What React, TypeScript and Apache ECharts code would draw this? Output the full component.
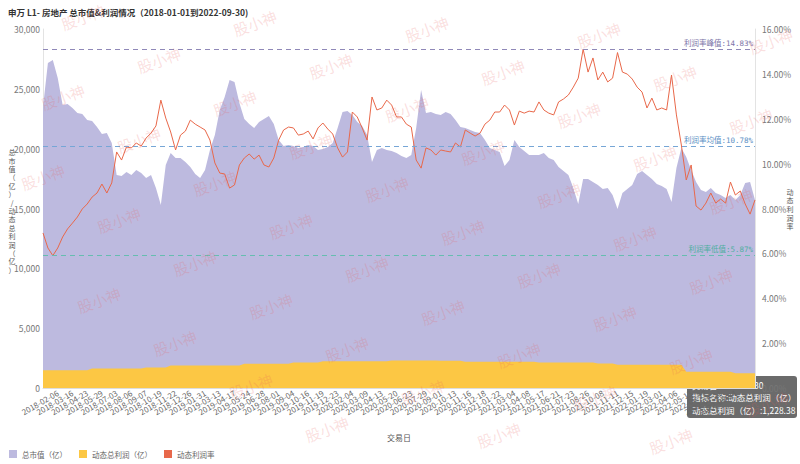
import React, { useEffect, useRef } from "react";
import * as echarts from "echarts";

const FONT = "'Noto Sans CJK SC', 'Noto Sans', sans-serif";
const MONO = "'DejaVu Sans Mono', 'Noto Sans CJK SC', monospace";

const titleText = "申万 L1- 房地产 总市值&利润情况（2018-01-01到2022-09-30)";
const seriesNames = ["总市值（亿）", "动态总利润（亿）", "动态利润率"];
const leftAxisName = "总市值（亿）/动态总利润（亿）";
const rightAxisName = "动态利润率";
const xAxisName = "交易日";
const peakRate = 14.83;
const meanRate = 10.78;
const lowRate = 5.87;

const dates = [
  "2018-01-02", "2018-01-12", "2018-01-24",
  "2018-02-06", "2018-02-26", "2018-03-06",
  "2018-03-16", "2018-03-28", "2018-04-11",
  "2018-04-23", "2018-05-07", "2018-05-17",
  "2018-05-29", "2018-06-08", "2018-06-21",
  "2018-07-03", "2018-07-13", "2018-07-25",
  "2018-08-06", "2018-08-16", "2018-08-28",
  "2018-09-07", "2018-09-19", "2018-10-09",
  "2018-10-19", "2018-10-31", "2018-11-12",
  "2018-11-22", "2018-12-04", "2018-12-14",
  "2018-12-26", "2019-01-09", "2019-01-21",
  "2019-01-31", "2019-02-19", "2019-03-01",
  "2019-03-13", "2019-03-25", "2019-04-04",
  "2019-04-17", "2019-04-29", "2019-05-14",
  "2019-05-24", "2019-06-05", "2019-06-18",
  "2019-06-28", "2019-07-10", "2019-07-22",
  "2019-08-01", "2019-08-13", "2019-08-23",
  "2019-09-04", "2019-09-17", "2019-09-27",
  "2019-10-16", "2019-10-28", "2019-11-07",
  "2019-11-19", "2019-11-29", "2019-12-11",
  "2019-12-23", "2020-01-06", "2020-01-16",
  "2020-02-04", "2020-02-14", "2020-02-26",
  "2020-03-09", "2020-03-19", "2020-03-31",
  "2020-04-13", "2020-04-23", "2020-05-08",
  "2020-05-20", "2020-06-01", "2020-06-11",
  "2020-06-23", "2020-07-06", "2020-07-16",
  "2020-07-29", "2020-08-10", "2020-08-20",
  "2020-09-01", "2020-09-11", "2020-09-23",
  "2020-10-13", "2020-10-23", "2020-11-04",
  "2020-11-16", "2020-11-26", "2020-12-08",
  "2020-12-18", "2020-12-30", "2021-01-12",
  "2021-01-22", "2021-02-03", "2021-02-22",
  "2021-03-04", "2021-03-16", "2021-03-26",
  "2021-04-08", "2021-04-20", "2021-04-30",
  "2021-05-17", "2021-05-27", "2021-06-08",
  "2021-06-21", "2021-07-01", "2021-07-13",
  "2021-07-23", "2021-08-04", "2021-08-16",
  "2021-08-26", "2021-09-07", "2021-09-17",
  "2021-10-08", "2021-10-20", "2021-11-01",
  "2021-11-11", "2021-11-23", "2021-12-03",
  "2021-12-15", "2021-12-27", "2022-01-07",
  "2022-01-19", "2022-02-07", "2022-02-17",
  "2022-03-01", "2022-03-11", "2022-03-23",
  "2022-04-06", "2022-04-18", "2022-04-28",
  "2022-05-13", "2022-05-25", "2022-06-07",
  "2022-06-17", "2022-06-29", "2022-07-11",
  "2022-07-21", "2022-08-02", "2022-08-12",
  "2022-08-24", "2022-09-05", "2022-09-16",
  "2022-09-28", "2022-09-30",
];

const marketCap = [
  23480, 27160, 27410, 25910, 23650, 23730, 23400, 22980, 22900, 22400,
  22310, 21810, 21230, 21310, 20480, 17800, 17720, 18050, 17800, 18220,
  17970, 17550, 17800, 16710, 15290, 18640, 19640, 19220, 19220, 18890,
  18470, 17880, 17550, 18220, 19890, 21140, 23230, 24320, 25740, 25570,
  23820, 22480, 22060, 21730, 22230, 22480, 22730, 22060, 20730, 20220,
  20310, 20220, 20060, 20140, 20310, 20220, 19890, 19970, 20140, 20480,
  21730, 23070, 23150, 22820, 22230, 21900, 21140, 18890, 19890, 20060,
  19890, 19810, 19640, 19390, 19220, 19470, 21730, 24900, 22980, 23070,
  22900, 22820, 23070, 22900, 22400, 21810, 21730, 21560, 21390, 21310,
  20730, 20060, 19890, 19720, 18550, 19050, 20730, 20140, 19810, 19470,
  19470, 19470, 19640, 19220, 19050, 18470, 18140, 17800, 16710, 15380,
  17470, 17470, 17220, 16970, 16630, 16710, 16130, 14960, 16300, 16630,
  16970, 17880, 18140, 17800, 17470, 17050, 16880, 16630, 15540, 18390,
  20060, 19310, 18220, 17220, 16550, 16380, 16710, 16300, 16130, 15880,
  16130, 15710, 16130, 17130, 17220, 15710,
];

const profit = [
  1480, 1480, 1480, 1480, 1480, 1480, 1480, 1480, 1480, 1480,
  1620, 1620, 1620, 1620, 1620, 1620, 1620, 1620, 1620, 1620,
  1620, 1720, 1720, 1720, 1720, 1720, 1880, 1880, 1880, 1880,
  1880, 1880, 1880, 1880, 1880, 1880, 1880, 1880, 1880, 1880,
  1880, 2030, 2030, 2030, 2030, 2030, 2030, 2030, 2030, 2030,
  2030, 2130, 2130, 2130, 2130, 2130, 2130, 2230, 2230, 2230,
  2230, 2230, 2230, 2230, 2230, 2230, 2230, 2230, 2230, 2230,
  2230, 2300, 2300, 2300, 2300, 2300, 2300, 2300, 2300, 2300,
  2300, 2270, 2270, 2270, 2270, 2270, 2200, 2200, 2200, 2200,
  2200, 2200, 2200, 2200, 2200, 2200, 2200, 2200, 2200, 2200,
  2200, 2130, 2130, 2130, 2130, 2130, 2130, 2130, 2130, 2130,
  2130, 2130, 2130, 2050, 2050, 2050, 2050, 1950, 1950, 1950,
  1950, 1950, 1950, 1950, 1950, 1950, 1950, 1950, 1950, 1950,
  1950, 1350, 1350, 1350, 1350, 1350, 1350, 1350, 1350, 1350,
  1350, 1228.38, 1228.38, 1228.38, 1228.38, 1228.38,
];

const profitRate = [
  6.91, 6.24, 5.9, 6.24, 6.73, 7.09, 7.35, 7.62, 7.98, 8.2,
  8.51, 8.69, 9.09, 8.69, 9.14, 10.52, 10.16, 10.74, 10.7, 10.92,
  10.78, 11.14, 11.36, 11.68, 12.83, 12.03, 11.41, 10.61, 11.27, 11.45,
  11.94, 11.76, 11.63, 11.5, 11.05, 10.03, 9.58, 9.54, 8.91, 9.05,
  9.94, 10.25, 10.43, 10.2, 10.38, 9.94, 9.85, 10.25, 11.05, 11.5,
  11.63, 11.59, 11.27, 11.32, 11.45, 11.1, 11.59, 11.81, 11.54, 11.32,
  10.7, 10.29, 10.52, 12.3, 12.08, 11.59, 11.05, 12.97, 12.39, 12.48,
  12.83, 12.61, 12.08, 12.08, 11.76, 11.63, 10.16, 9.8, 10.7, 10.61,
  10.38, 10.61, 10.56, 10.52, 10.92, 10.74, 11.5, 11.36, 11.23, 11.36,
  11.76, 11.94, 12.3, 12.3, 12.61, 12.39, 11.72, 12.34, 12.25, 12.34,
  12.3, 12.75, 12.39, 12.25, 12.17, 12.75, 12.88, 13.06, 13.41, 13.81,
  15.1, 14.08, 14.71, 13.73, 14.08, 13.64, 13.81, 14.95, 14.08, 13.99,
  13.77, 13.41, 13.19, 12.48, 12.92, 12.39, 12.48, 12.39, 13.95, 12.17,
  10.83, 9.27, 9.94, 8.11, 7.93, 8.24, 8.69, 8.24, 8.42, 8.24,
  9.18, 8.6, 8.78, 8.2, 7.75, 8.38,
];

const COLORS = ["#BDBADF", "#FCC744", "#E8684A"];

function fmtNum(v: number, digits = 0) {
  return v.toLocaleString("en-US", {
    minimumFractionDigits: digits,
    maximumFractionDigits: digits,
  });
}

function buildWatermarks() {
  const items: any[] = [];
  for (let i = -3; i <= 6; i++) {
    for (let j = -2; j <= 12; j++) {
      const x = 83 + i * 172 + j * 76;
      const y = 17 + i * 6 + j * 43;
      if (x < 26 || x > 776 || y < 8 || y > 452) continue;
      items.push({
        type: "text",
        x,
        y,
        rotation: (20 * Math.PI) / 180,
        silent: true,
        z: 100,
        style: {
          text: "股小神",
          fill: "rgba(232, 90, 90, 0.2)",
          font: `15px ${FONT}`,
          align: "center",
          verticalAlign: "middle",
        },
      });
    }
  }
  return items;
}

function verticalText(text: string, x: number, y: number, step: number) {
  const chars = text.split("");
  const top = y - ((chars.length - 1) * step) / 2;
  return chars.map((ch, k) => ({
    type: "text",
    x,
    y: top + k * step,
    silent: true,
    style: {
      text: ch,
      fill: "#555",
      font: `7px ${FONT}`,
      align: "center",
      verticalAlign: "middle",
    },
  }));
}

export default function App() {
  const ref = useRef<HTMLDivElement>(null);

  useEffect(() => {
    if (!ref.current) return;
    const chart = echarts.init(ref.current, undefined, { renderer: "svg" });
    const last = dates.length - 1;

    const markLabel = (text: string, color: string) => ({
      show: true,
      position: "insideEndTop",
      formatter: text,
      color,
      fontSize: 7.5,
      fontFamily: MONO,
      distance: 2,
    });

    const option: any = {
      animation: false,
      backgroundColor: "#ffffff",
      textStyle: { fontFamily: FONT },
      title: {
        text: titleText,
        left: 3,
        top: 3,
        textStyle: { fontSize: 8.5, fontWeight: "bold", color: "#333", fontFamily: FONT },
      },
      legend: {
        data: seriesNames,
        left: 4,
        top: 445,
        icon: "rect",
        itemWidth: 8,
        itemHeight: 8,
        itemGap: 12,
        textStyle: { fontSize: 7.5, color: "#666", fontFamily: FONT },
      },
      grid: { left: 43, right: 45, top: 29, bottom: 76 },
      xAxis: {
        type: "category",
        data: dates,
        boundaryGap: false,
        name: xAxisName,
        nameLocation: "middle",
        nameGap: 45,
        nameTextStyle: { fontSize: 8, color: "#555" },
        axisLine: { show: true, lineStyle: { color: "#ddd" } },
        axisTick: { show: false },
        axisLabel: {
          interval: 2,
          rotate: 30,
          fontSize: 8,
          color: "#666",
          margin: 4,
        },
      },
      yAxis: [
        {
          type: "value",
          min: 0,
          max: 30000,
          interval: 5000,
          axisLine: { show: true, lineStyle: { color: "#e3e3e3" } },
          axisTick: { show: false },
          splitLine: { show: false },
          axisLabel: {
            fontSize: 8.5,
            color: "#777",
            margin: 3,
            formatter: (v: number) => fmtNum(v),
          },
        },
        {
          type: "value",
          min: 0,
          max: 16,
          interval: 2,
          axisLine: { show: true, lineStyle: { color: "#e3e3e3" } },
          axisTick: { show: false },
          splitLine: { show: false },
          axisLabel: {
            fontSize: 8.5,
            color: "#777",
            margin: 7,
            formatter: (v: number) => v.toFixed(2) + "%",
          },
        },
      ],
      series: [
        {
          name: seriesNames[0],
          type: "line",
          yAxisIndex: 0,
          data: marketCap,
          showSymbol: false,
          symbol: "none",
          lineStyle: { width: 0, color: COLORS[0] },
          itemStyle: { color: COLORS[0] },
          areaStyle: { color: COLORS[0], opacity: 1 },
          z: 1,
        },
        {
          name: seriesNames[1],
          type: "line",
          yAxisIndex: 0,
          data: profit,
          showSymbol: false,
          symbol: "none",
          lineStyle: { width: 0, color: COLORS[1] },
          itemStyle: { color: COLORS[1] },
          areaStyle: { color: COLORS[1], opacity: 1 },
          z: 2,
        },
        {
          name: seriesNames[2],
          type: "line",
          yAxisIndex: 1,
          data: profitRate,
          showSymbol: false,
          symbol: "none",
          lineStyle: { width: 1, color: COLORS[2] },
          itemStyle: { color: COLORS[2] },
          z: 3,
          markLine: {
            silent: true,
            symbol: ["none", "none"],
            data: [
              {
                type: "max",
                lineStyle: { color: "#8f88b8", type: [5, 4], width: 1 },
                label: markLabel(`利润率峰值:${peakRate.toFixed(2)}%`, "#7c74a8"),
              },
              {
                yAxis: meanRate,
                lineStyle: { color: "#76a6d6", type: [5, 4], width: 1 },
                label: markLabel(`利润率均值:${meanRate.toFixed(2)}%`, "#5b8fc4"),
              },
              {
                type: "min",
                lineStyle: { color: "#66bdb0", type: [5, 4], width: 1 },
                label: markLabel(`利润率低值:${lowRate.toFixed(2)}%`, "#4fae9f"),
              },
            ],
          },
        },
      ],
      graphic: [
        ...buildWatermarks(),
        ...verticalText(leftAxisName, 12, 211, 8.4),
        ...verticalText(rightAxisName, 790, 209, 8.6),
        {
          type: "group",
          x: 687,
          y: 376,
          z: 200,
          silent: true,
          children: [
            {
              type: "rect",
              shape: { x: 0, y: 0, width: 110, height: 42, r: 3 },
              style: { fill: "rgba(50,50,50,0.72)" },
            },
            {
              type: "text",
              x: 5,
              y: 8.5,
              style: {
                text: `交易日:${dates[last]}`,
                fill: "#fff",
                font: `8.5px ${FONT}`,
                verticalAlign: "middle",
              },
            },
            {
              type: "text",
              x: 5,
              y: 21,
              style: {
                text: `指标名称:${seriesNames[1]}`,
                fill: "#fff",
                font: `8.5px ${FONT}`,
                verticalAlign: "middle",
              },
            },
            {
              type: "text",
              x: 5,
              y: 33.5,
              style: {
                text: `${seriesNames[1]}:${fmtNum(profit[last], 2)}`,
                fill: "#fff",
                font: `8.5px ${FONT}`,
                verticalAlign: "middle",
              },
            },
          ],
        },
      ],
    };

    chart.setOption(option);
    return () => chart.dispose();
  }, []);

  return (
    <div
      ref={ref}
      style={{ position: "fixed", left: 0, top: 0, width: 800, height: 464 }}
    />
  );
}
